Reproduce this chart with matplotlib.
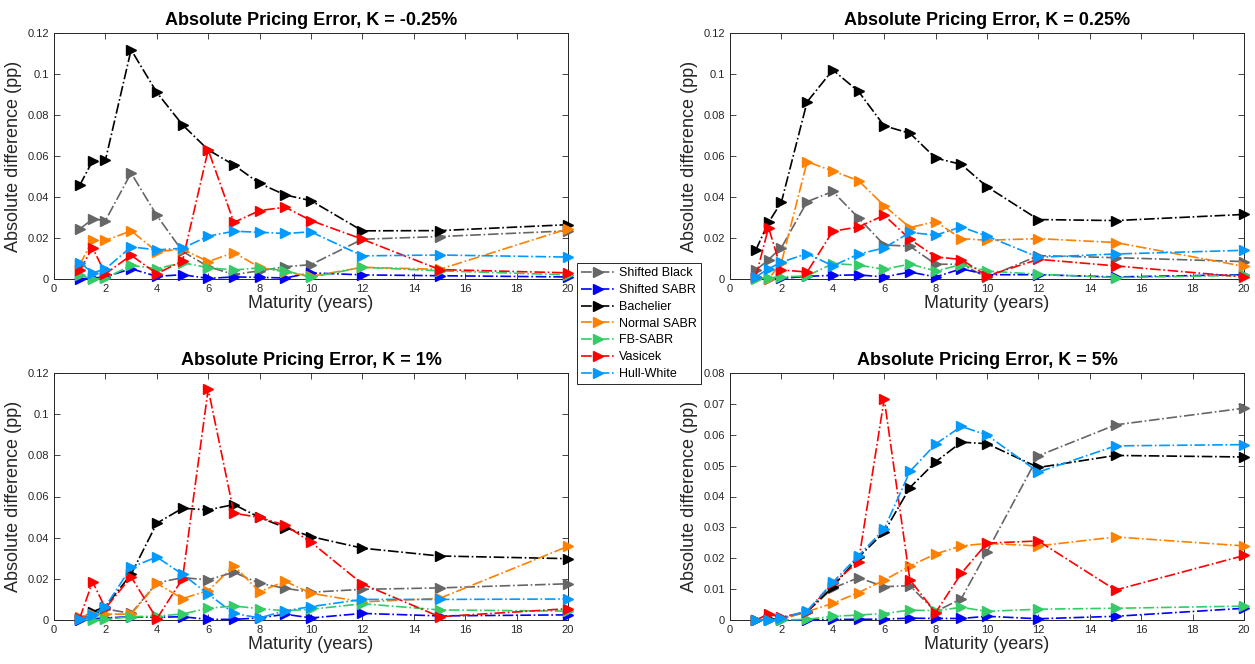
import matplotlib
matplotlib.use("Agg")
import matplotlib.pyplot as plt
from matplotlib.ticker import FuncFormatter

plt.rcParams['font.family'] = ['Liberation Sans', 'DejaVu Sans']

# vencimientos (años)
maturity = [1, 1.5, 2, 3, 4, 5, 6, 7, 8, 9, 10, 12, 15, 20]

models = ['Shifted Black', 'Shifted SABR', 'Bachelier', 'Normal SABR',
          'FB-SABR', 'Vasicek', 'Hull-White']
colors = ['#666666', '#0000ff', '#000000', '#ff8000', '#33cc66', '#ff0000', '#0099ff']

titles = ['Absolute Pricing Error, K = -0.25%', 'Absolute Pricing Error, K = 0.25%',
          'Absolute Pricing Error, K = 1%', 'Absolute Pricing Error, K = 5%']

# K = -0.25%
err_m025 = [
    [0.0243, 0.0293, 0.0285, 0.0517, 0.031, 0.0135, 0.006, 0.0022, 0.004, 0.006, 0.007, 0.0194, 0.0207, 0.0235],
    [0.0, 0.0005, 0.001, 0.005, 0.0013, 0.0021, 0.0003, 0.001, 0.0008, 0.0005, 0.003, 0.002, 0.0016, 0.001],
    [0.0457, 0.0576, 0.0579, 0.1118, 0.091, 0.0752, 0.063, 0.0556, 0.0466, 0.041, 0.0382, 0.0235, 0.0236, 0.0265],
    [0.007, 0.0188, 0.0188, 0.0235, 0.0134, 0.0145, 0.0085, 0.0129, 0.0057, 0.0034, 0.0013, 0.0057, 0.0047, 0.0245],
    [0.0018, 0.0, 0.0003, 0.0067, 0.005, 0.008, 0.0055, 0.0044, 0.0054, 0.0041, 0.0008, 0.0057, 0.004, 0.002],
    [0.0042, 0.0152, 0.0025, 0.0116, 0.0026, 0.0088, 0.063, 0.0276, 0.0334, 0.035, 0.0285, 0.0194, 0.0046, 0.003],
    [0.008, 0.003, 0.0049, 0.0157, 0.0142, 0.015, 0.0209, 0.0233, 0.0228, 0.0222, 0.023, 0.0113, 0.0117, 0.0107],
]

# K = 0.25%
err_p025 = [
    [0.0042, 0.0095, 0.0153, 0.0377, 0.0427, 0.0298, 0.0166, 0.016, 0.0072, 0.0072, 0.0008, 0.0114, 0.0104, 0.0085],
    [0.0003, 0.0, 0.0003, 0.0013, 0.0018, 0.002, 0.001, 0.0034, 0.001, 0.005, 0.0021, 0.0021, 0.001, 0.0021],
    [0.014, 0.0276, 0.0375, 0.0864, 0.102, 0.0915, 0.0747, 0.0711, 0.059, 0.0559, 0.045, 0.029, 0.0285, 0.0315],
    [0.001, 0.0, 0.008, 0.0572, 0.0527, 0.048, 0.0357, 0.0251, 0.028, 0.0197, 0.0189, 0.0197, 0.0178, 0.0062],
    [0.0, 0.0007, 0.001, 0.0015, 0.0075, 0.0068, 0.0047, 0.0073, 0.0039, 0.007, 0.0039, 0.0023, 0.0007, 0.0018],
    [0.001, 0.0251, 0.0044, 0.0034, 0.0233, 0.0254, 0.0311, 0.0194, 0.0108, 0.0095, 0.0015, 0.0096, 0.0064, 0.001],
    [0.001, 0.005, 0.0082, 0.0124, 0.0064, 0.0121, 0.0152, 0.0227, 0.0214, 0.0254, 0.0209, 0.0106, 0.0122, 0.014],
]

# K = 1%
err_1 = [
    [0.0003, 0.0036, 0.0054, 0.0032, 0.018, 0.0206, 0.0195, 0.0232, 0.0178, 0.0154, 0.0135, 0.0149, 0.0156, 0.0176],
    [0.0, 0.0006, 0.001, 0.0016, 0.0013, 0.0016, 0.0003, 0.0003, 0.001, 0.0028, 0.001, 0.0032, 0.002, 0.0025],
    [0.0003, 0.004, 0.0065, 0.0222, 0.047, 0.0543, 0.0535, 0.0561, 0.0498, 0.0449, 0.0405, 0.0349, 0.0311, 0.0298],
    [0.0016, 0.0029, 0.0029, 0.0028, 0.0178, 0.0104, 0.0143, 0.0263, 0.0138, 0.0188, 0.013, 0.0088, 0.0105, 0.0358],
    [0.0003, 0.0, 0.0003, 0.0016, 0.0019, 0.0029, 0.0057, 0.0068, 0.0055, 0.0045, 0.0052, 0.0079, 0.0049, 0.0043],
    [0.0008, 0.0186, 0.0057, 0.021, 0.0006, 0.02, 0.1122, 0.0519, 0.0498, 0.046, 0.0378, 0.0175, 0.0016, 0.0055],
    [0.0003, 0.0023, 0.0065, 0.0256, 0.0306, 0.0222, 0.0126, 0.0032, 0.001, 0.0045, 0.0065, 0.01, 0.01, 0.0102],
]

# K = 5%
err_5 = [
    [0.0, 0.0002, 0.0005, 0.0027, 0.0103, 0.0137, 0.0108, 0.0111, 0.0027, 0.0069, 0.0221, 0.0532, 0.0632, 0.0686],
    [0.0, 0.0, 0.0, 0.0, 0.0002, 0.0002, 0.0003, 0.0006, 0.0005, 0.0005, 0.0012, 0.0004, 0.0012, 0.0038],
    [0.0, 0.0002, 0.0005, 0.0027, 0.0108, 0.0203, 0.0285, 0.0429, 0.0512, 0.0576, 0.0571, 0.0494, 0.0533, 0.0528],
    [0.0, 0.0, 0.0002, 0.0027, 0.0054, 0.0089, 0.0129, 0.0175, 0.0214, 0.024, 0.0248, 0.024, 0.0269, 0.024],
    [0.0, 0.0, 0.0, 0.0002, 0.0012, 0.0016, 0.0021, 0.0032, 0.003, 0.0041, 0.0028, 0.0035, 0.0038, 0.0045],
    [0.0, 0.0019, 0.0009, 0.0027, 0.0119, 0.0189, 0.0716, 0.013, 0.0024, 0.0151, 0.0249, 0.0256, 0.0097, 0.0209],
    [0.0, 0.0, 0.0005, 0.003, 0.0122, 0.0208, 0.0295, 0.0481, 0.057, 0.0627, 0.0599, 0.0479, 0.0564, 0.0568],
]

all_errors = [err_m025, err_p025, err_1, err_5]
ymax = [0.12, 0.12, 0.12, 0.08]

W, H = 1255, 664
fig = plt.figure(figsize=(W / 100, H / 100), dpi=100)

# posiciones de los ejes en pixeles (izq, der, arriba, abajo)
boxes = [(54, 568, 33, 279), (730, 1244, 33, 279),
         (54, 568, 373, 620), (730, 1244, 373, 620)]

fmt = FuncFormatter(lambda v, p: '%g' % round(v, 4))

handles = []
for i in range(4):
    l, r, t, b = boxes[i]
    ax = fig.add_axes([l / W, 1 - b / H, (r - l) / W, (b - t) / H])
    for k in range(len(models)):
        h, = ax.plot(maturity, all_errors[i][k], linestyle='-.', color=colors[k],
                     marker='>', markersize=7, linewidth=1.2, label=models[k],
                     clip_on=False, zorder=3)
        if i == 0:
            handles.append(h)
    ax.set_xlim(0, 20)
    ax.set_ylim(0, ymax[i])
    ax.set_xticks(range(0, 21, 2))
    step = 0.02 if ymax[i] > 0.1 else 0.01
    n = int(round(ymax[i] / step))
    ax.set_yticks([step * j for j in range(n + 1)])
    ax.yaxis.set_major_formatter(fmt)
    ax.tick_params(direction='in', top=True, right=True, labelsize=8,
                   colors='#262626', length=4, width=0.6)
    for s in ax.spines.values():
        s.set_color('#262626')
        s.set_linewidth(0.7)
    ax.set_title(titles[i], fontsize=13, fontweight='bold', pad=6)
    ax.set_xlabel('Maturity (years)', fontsize=13, color='#262626', labelpad=1)
    ax.set_ylabel('Absolute difference (pp)', fontsize=13, color='#262626', labelpad=4)

leg = fig.legend(handles=handles, loc='upper left',
                 bbox_to_anchor=(577 / W, 1 - 263 / H), fontsize=9,
                 fancybox=False, edgecolor='#262626', framealpha=1,
                 handlelength=2.6, labelspacing=0.38, borderpad=0.35,
                 handletextpad=0.4, borderaxespad=0)
leg.get_frame().set_linewidth(0.7)

fig.savefig('out.png', dpi=100)
